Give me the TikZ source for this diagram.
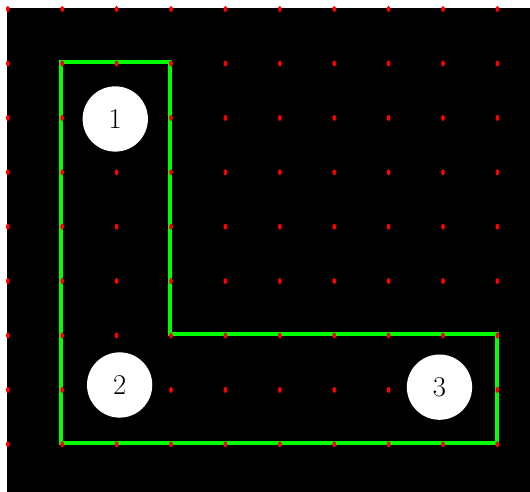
\documentclass[tikz,border=0pt]{standalone}
\usepackage{tikz}
\begin{document}
\begin{tikzpicture}[
  wall/.style={draw={rgb,255:red,0;green,255;blue,0}, line width=2.1pt, line join=miter},
  gridmark/.style={fill=red, draw=none},
  ball/.style={circle, fill=white, draw=none, minimum size=1.2cm, inner sep=0pt, font=\fontsize{15}{18}\selectfont}
]
\useasboundingbox (-0.129,0.147) rectangle (9.614,-8.897);
\fill[white] (-0.129,0.147) rectangle (9.614,-8.897);
\fill[black] (0,0) rectangle (9.614,-8.897);
% L-shaped boundary
\coordinate (p1) at (1,-1);
\coordinate (p2) at (3,-1);
\coordinate (p3) at (3,-6);
\coordinate (p4) at (9,-6);
\coordinate (p5) at (9,-8);
\coordinate (p6) at (1,-8);
\draw[wall] (p1) -- (p2) -- (p3) -- (p4) -- (p5) -- (p6) -- cycle;
% grid marks
\foreach \i in {0,...,9} {
  \foreach \j in {0,...,8} {
    \fill[gridmark] (\i+0.015,-\j-0.02) ellipse (0.035 and 0.055);
  }
}
% balls
\node[ball] (b1) at (1.99,-2.04) {1};
\node[ball] (b2) at (2.07,-6.93) {2};
\node[ball] (b3) at (7.95,-6.97) {3};
\end{tikzpicture}
\end{document}
